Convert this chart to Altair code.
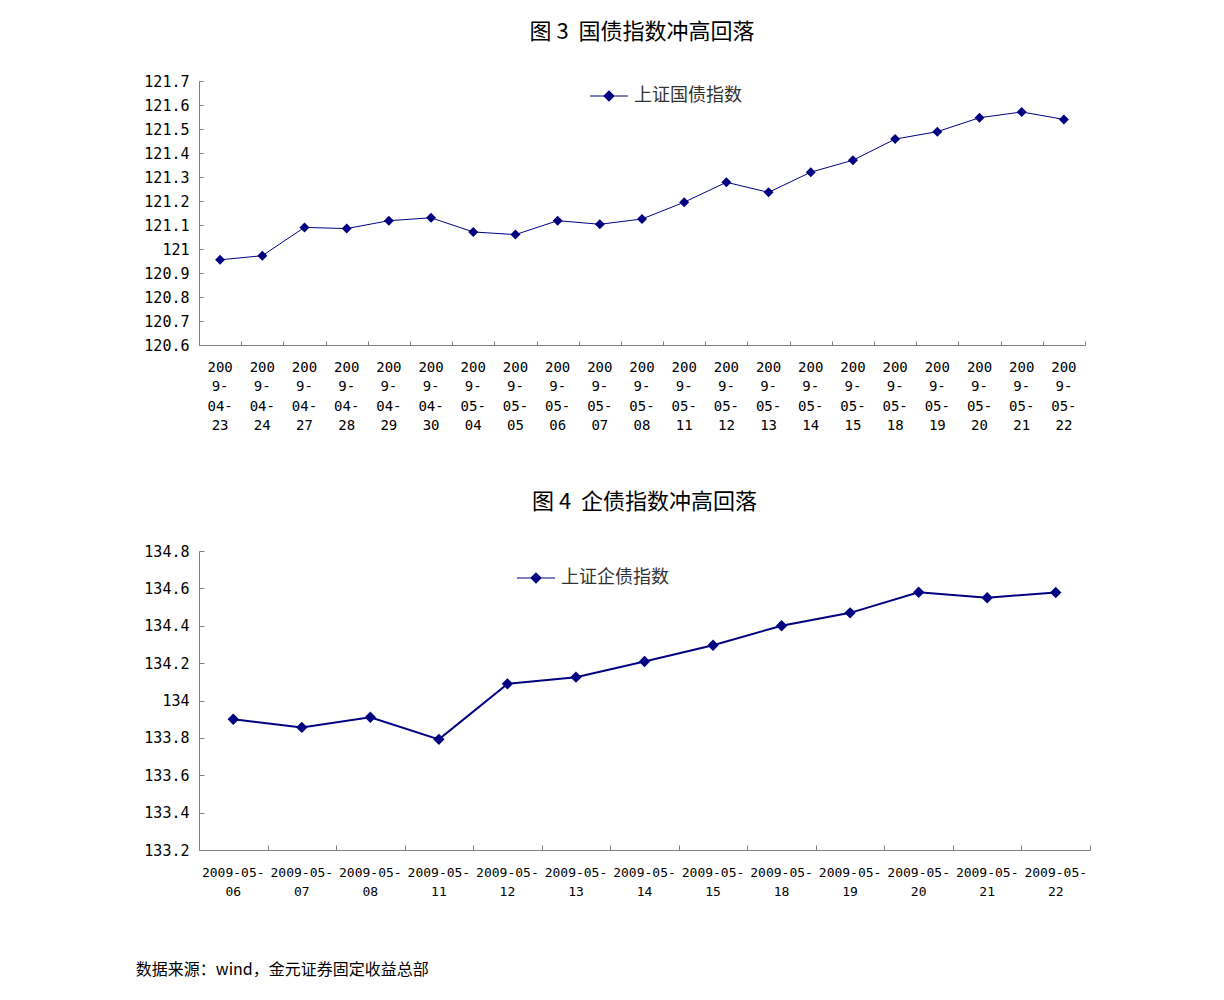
import altair as alt
import pandas as pd

# ---- data ----
dates1 = ["2009-04-23", "2009-04-24", "2009-04-27", "2009-04-28", "2009-04-29", "2009-04-30",
          "2009-05-04", "2009-05-05", "2009-05-06", "2009-05-07", "2009-05-08", "2009-05-11",
          "2009-05-12", "2009-05-13", "2009-05-14", "2009-05-15", "2009-05-18", "2009-05-19",
          "2009-05-20", "2009-05-21", "2009-05-22"]
gov_index = [120.955, 120.972, 121.090, 121.085, 121.118, 121.130, 121.071, 121.060, 121.118,
             121.103, 121.125, 121.195, 121.278, 121.236, 121.320, 121.370, 121.458, 121.489,
             121.547, 121.571, 121.540]

dates2 = ["2009-05-06", "2009-05-07", "2009-05-08", "2009-05-11", "2009-05-12", "2009-05-13",
          "2009-05-14", "2009-05-15", "2009-05-18", "2009-05-19", "2009-05-20", "2009-05-21",
          "2009-05-22"]
corp_index = [133.900, 133.856, 133.910, 133.792, 134.089, 134.125, 134.209, 134.296, 134.400,
              134.469, 134.579, 134.550, 134.578]

series1 = "上证国债指数"
series2 = "上证企债指数"
title1 = "图\u00a03\u00a0\u00a0国债指数冲高回落"
title2 = "图\u00a04\u00a0\u00a0企债指数冲高回落"
source = "数据来源：wind，金元证券固定收益总部"

yticks1 = [round(120.6 + 0.1 * i, 1) for i in range(12)]
yticks2 = [round(133.2 + 0.2 * i, 1) for i in range(9)]

df1 = pd.DataFrame({"date": dates1, "value": gov_index, "series": series1})
df2 = pd.DataFrame({"date": dates2, "value": corp_index, "series": series2})

NAVY = "#000080"
GREY = "#808080"
CJK = "Noto Sans CJK SC"
MONO = "DejaVu Sans Mono"

LEG_PATH = "M-1,0L1,0M0,-0.26L0.26,0L0,0.26L-0.26,0Z"


def panel(df, dates, yticks, ydom, w, h, title, label_expr, line_h, lab_pad,
          xfont, yfont, pt_size, stroke_w, leg_x, leg_y, tick_len, title_off):
    xscale = alt.Scale(type="band", domain=dates, paddingInner=0, paddingOuter=0)
    yscale = alt.Scale(domain=ydom, zero=False, nice=False)
    legend = alt.Legend(orient="none", legendX=leg_x, legendY=leg_y, padding=0,
                        symbolType=LEG_PATH, symbolSize=1444, symbolStrokeWidth=1.2,
                        symbolFillColor=NAVY, symbolStrokeColor=NAVY,
                        labelFont=CJK, labelFontSize=18, labelColor="#333333",
                        labelOffset=5, titlePadding=0)
    color = alt.Color("series:N", title=None, scale=alt.Scale(range=[NAVY]), legend=legend)

    line = alt.Chart(df).mark_line(strokeWidth=stroke_w).encode(
        x=alt.X("date:N", scale=xscale, title=None,
                axis=alt.Axis(orient="bottom", labelAngle=0, labelExpr=label_expr,
                              labelFont=MONO, labelFontSize=xfont, labelColor="#000000",
                              labelLineHeight=line_h, labelPadding=lab_pad, labelBaseline="top",
                              ticks=False, domainColor=GREY, grid=False)),
        y=alt.Y("value:Q", scale=yscale, title=None,
                axis=alt.Axis(orient="left", values=yticks, format="~f",
                              labelFont=MONO, labelFontSize=yfont, labelColor="#000000",
                              labelPadding=10, ticks=False, domainColor=GREY, grid=False)),
        color=color,
    )
    pts = alt.Chart(df).mark_point(shape="diamond", filled=True, size=pt_size, opacity=1).encode(
        x=alt.X("date:N", scale=xscale, title=None,
                axis=alt.Axis(orient="top", offset=-h, labels=False, domain=False,
                              ticks=True, tickBand="extent", tickSize=tick_len,
                              tickColor=GREY, grid=False)),
        y=alt.Y("value:Q", scale=yscale, title=None,
                axis=alt.Axis(orient="right", offset=-w, labels=False, domain=False,
                              values=yticks, ticks=True, tickSize=tick_len,
                              tickColor=GREY, grid=False)),
        color=color,
    )
    return alt.layer(line, pts).resolve_axis(x="independent", y="independent").properties(
        width=w, height=h,
        title=alt.TitleParams(title, font=CJK, fontSize=22, fontWeight="normal",
                              color="#000000", anchor="middle", offset=title_off),
    )


label1 = ("[substring(datum.value,0,3), substring(datum.value,3,5), "
          "substring(datum.value,5,8), substring(datum.value,8,10)]")
label2 = "[substring(datum.value,0,8), substring(datum.value,8,10)]"

c1 = panel(df1, dates1, yticks1, [120.6, 121.7], 886, 264, title1, label1, 19.5, 15,
           14, 15, 100, 1, 390, -5, 4, 30)
c2 = panel(df2, dates2, yticks2, [133.2, 134.8], 891, 299, title2, label2, 19, 16,
           13, 15, 130, 2, 317, 7, 5, 30)

chart = alt.vconcat(c1, c2, spacing=58).resolve_scale(color="independent").resolve_legend(
    color="independent").properties(
    padding={"left": 127, "top": 13, "right": 5, "bottom": 5},
    background="white",
    title=alt.TitleParams(source, orient="bottom", anchor="start", font=CJK, fontSize=16,
                          fontWeight="normal", color="#000000", offset=64, dx=-8),
).configure_view(stroke=None)

chart.save("out.html", embed_options={"renderer": "svg", "actions": False})
